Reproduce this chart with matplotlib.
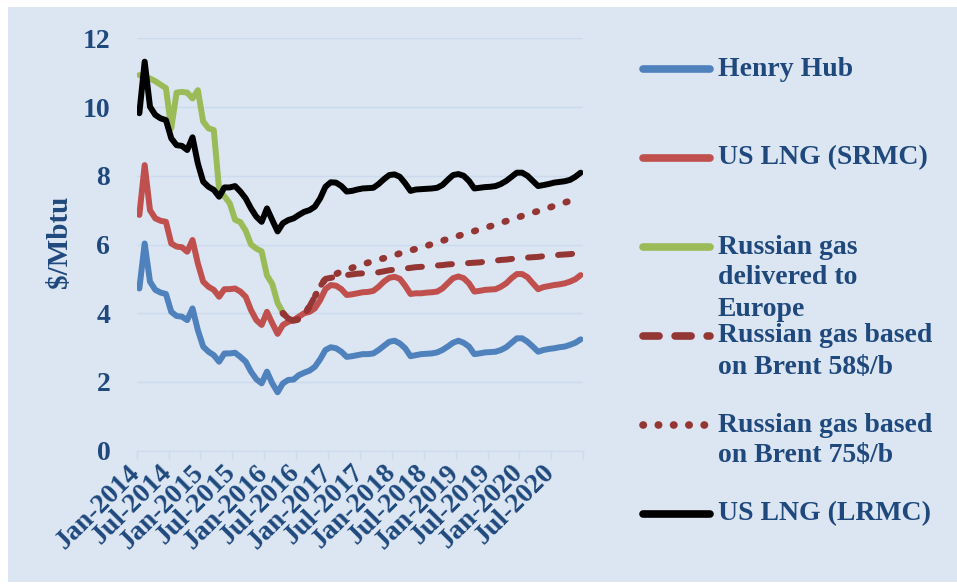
import numpy as np
import matplotlib.pyplot as plt
from matplotlib.lines import Line2D
from matplotlib.patches import Rectangle

# ---------------- data (monthly, Jan-2014 .. Dec-2020) ----------------
henry_hub = [4.72, 6.03, 4.92, 4.68, 4.60, 4.56, 4.04, 3.92, 3.90, 3.80, 4.14, 3.51,
             3.03, 2.88, 2.78, 2.59, 2.83, 2.83, 2.85, 2.73, 2.59, 2.30, 2.08, 1.96,
             2.30, 1.96, 1.70, 1.96, 2.06, 2.07, 2.20, 2.27, 2.33, 2.44, 2.66, 2.93,
             3.01, 2.98, 2.88, 2.73, 2.75, 2.78, 2.81, 2.81, 2.83, 2.93, 3.05, 3.17,
             3.20, 3.12, 2.98, 2.75, 2.78, 2.81, 2.82, 2.83, 2.86, 2.93, 3.03, 3.14,
             3.20, 3.14, 3.03, 2.81, 2.83, 2.86, 2.87, 2.88, 2.93, 3.01, 3.14, 3.27,
             3.27, 3.17, 3.03, 2.88, 2.93, 2.96, 2.98, 3.01, 3.03, 3.08, 3.14, 3.24]
lng_srmc = [6.86, 8.31, 7.00, 6.76, 6.69, 6.66, 6.03, 5.94, 5.92, 5.79, 6.13, 5.45,
            4.92, 4.77, 4.68, 4.48, 4.70, 4.70, 4.72, 4.63, 4.48, 4.09, 3.80, 3.66,
            4.04, 3.71, 3.40, 3.66, 3.75, 3.80, 3.90, 4.00, 4.04, 4.14, 4.38, 4.70,
            4.82, 4.80, 4.70, 4.53, 4.55, 4.58, 4.61, 4.62, 4.65, 4.77, 4.92, 5.03,
            5.06, 5.00, 4.80, 4.56, 4.58, 4.58, 4.60, 4.61, 4.63, 4.72, 4.87, 5.02,
            5.07, 5.02, 4.87, 4.63, 4.65, 4.68, 4.69, 4.70, 4.77, 4.87, 5.02, 5.14,
            5.14, 5.05, 4.87, 4.70, 4.76, 4.79, 4.82, 4.84, 4.87, 4.92, 4.99, 5.11]
russian_eu = [10.93, 10.88, 10.83, 10.75, 10.65, 10.55, 9.38, 10.42, 10.44, 10.42, 10.25, 10.49,
              9.58, 9.38, 9.33, 7.60, 7.40, 7.20, 6.72, 6.65, 6.40, 6.00, 5.88, 5.80,
              5.10, 4.85, 4.30, 4.02] + [np.nan] * 56
brent58 = [np.nan] * 27 + [4.00, 3.85, 3.78, 3.83, 3.95, 4.20, 4.48, 4.78, 5.00,
           5.03, 5.06, 5.09, 5.11, 5.13, 5.15, 5.16, 5.17, 5.18, 5.19, 5.22, 5.25,
           5.27, 5.29, 5.30, 5.32, 5.34, 5.35, 5.36, 5.37, 5.39, 5.40, 5.42, 5.43,
           5.44, 5.45, 5.46, 5.47, 5.48, 5.50, 5.52, 5.53, 5.55, 5.56, 5.58, 5.60,
           5.61, 5.62, 5.63, 5.64, 5.66, 5.67, 5.68, 5.70, 5.71, 5.72, 5.74, 5.75]
brent75 = [np.nan] * 27 + [4.00, 3.85, 3.78, 3.83, 3.95, 4.20, 4.48, 4.78, 5.00,
           5.07, 5.14, 5.22, 5.27, 5.32, 5.37, 5.42, 5.47, 5.52, 5.56, 5.60, 5.64,
           5.69, 5.74, 5.79, 5.83, 5.87, 5.92, 5.96, 6.01, 6.06, 6.11, 6.16, 6.21,
           6.25, 6.30, 6.35, 6.39, 6.44, 6.49, 6.53, 6.58, 6.63, 6.68, 6.73, 6.78,
           6.83, 6.88, 6.93, 6.97, 7.02, 7.07, 7.12, 7.17, 7.22, 7.27, 7.32, 7.38]
lng_lrmc = [9.82, 11.32, 10.01, 9.77, 9.67, 9.62, 9.09, 8.89, 8.87, 8.75, 9.12, 8.36,
            7.83, 7.68, 7.59, 7.39, 7.66, 7.66, 7.70, 7.54, 7.34, 7.05, 6.81, 6.66,
            7.05, 6.71, 6.38, 6.62, 6.71, 6.76, 6.86, 6.95, 7.00, 7.10, 7.34, 7.68,
            7.81, 7.80, 7.70, 7.54, 7.56, 7.60, 7.63, 7.64, 7.65, 7.76, 7.90, 8.02,
            8.04, 7.97, 7.78, 7.56, 7.60, 7.61, 7.62, 7.63, 7.65, 7.73, 7.88, 8.02,
            8.05, 8.00, 7.85, 7.63, 7.65, 7.67, 7.68, 7.70, 7.76, 7.85, 7.97, 8.09,
            8.09, 8.00, 7.85, 7.70, 7.73, 7.76, 7.80, 7.82, 7.84, 7.88, 7.97, 8.09]

tick_labels = ['Jan-2014', 'Jul-2014', 'Jan-2015', 'Jul-2015', 'Jan-2016', 'Jul-2016',
               'Jan-2017', 'Jul-2017', 'Jan-2018', 'Jul-2018', 'Jan-2019', 'Jul-2019',
               'Jan-2020', 'Jul-2020']

months = np.arange(len(henry_hub))

# ---------------- style ----------------
BG = '#DCE6F2'
TXT = '#1F497D'
GRID = '#CCDAEE'
FONT = 'Liberation Serif'
FS = 20
LW = 4.3

plt.rcParams.update({'font.family': FONT, 'font.weight': 'bold'})

fig = plt.figure(figsize=(9.57, 5.85), dpi=100, facecolor='white')
fig.add_artist(Rectangle((8/957, 0.005), 1, 1 - 7/585 - 0.005, transform=fig.transFigure,
                         facecolor=BG, edgecolor='none', zorder=-10))
ax = fig.add_axes([136.7/957, 1 - 450.7/585, (583.3 - 136.7)/957, (450.7 - 38.3)/585])
ax.set_facecolor('none')

ax.plot(months, henry_hub, color='#4F81BD', lw=LW, solid_capstyle='round', solid_joinstyle='round')
ax.plot(months, lng_srmc, color='#C0504D', lw=LW, solid_capstyle='round', solid_joinstyle='round')
ax.plot(months, russian_eu, color='#9BBB59', lw=LW, solid_capstyle='round', solid_joinstyle='round')
ax.plot(months, brent58, color='#943634', lw=LW, ls=(0, (2.35, 2.7)), dash_capstyle='round')
ax.plot(months, brent75, color='#943634', lw=4.8, ls=(0, (0.25, 2.15)), dash_capstyle='round')
ax.plot(months, lng_lrmc, color='black', lw=LW, solid_capstyle='round', solid_joinstyle='round')

ax.set_xlim(-0.5, 83.5)
ax.set_ylim(0, 12)
ax.set_yticks(range(0, 13, 2))
ax.set_xticks(np.arange(-0.5, 84, 6))
ax.set_xticklabels(tick_labels + [''], rotation=45, ha='right', va='center',
                   rotation_mode='anchor')
for lbl in ax.get_xticklabels():
    lbl.set_x(lbl.get_position()[0])
ax.tick_params(axis='y', length=0, pad=19, labelsize=FS, labelcolor=TXT)
ax.tick_params(axis='x', length=6, width=1, color=GRID, pad=7, labelsize=FS, labelcolor=TXT)
ax.grid(axis='y', color=GRID, lw=1)
ax.set_axisbelow(True)
for s in ['top', 'right', 'left']:
    ax.spines[s].set_visible(False)
ax.spines['bottom'].set_color(GRID)

fig.text(59/957, 1 - 242/585, '$/Mbtu', rotation=90, ha='center', va='center',
         color=TXT, fontsize=FS + 1, fontweight='bold')

# ---------------- legend (drawn by hand: handle aligned to first text line) ----------------
legend_items = [
    ('#4F81BD', '-', ['Henry Hub'], 69),
    ('#C0504D', '-', ['US LNG (SRMC)'], 158),
    ('#9BBB59', '-', ['Russian gas', 'delivered to', 'Europe'], 247),
    ('#943634', (0, (2.1, 2.1)), ['Russian gas based', 'on Brent 58$/b'], 336),
    ('#943634', (0, (0.05, 1.95)), ['Russian gas based', 'on Brent 75$/b'], 425),
    ('black', '-', ['US LNG (LRMC)'], 514),
]
for col, ls, lines, ypx in legend_items:
    y = 1 - ypx/585
    fig.add_artist(Line2D([643/957, 710/957], [y, y], transform=fig.transFigure, color=col,
                          lw=5.5, ls=ls, solid_capstyle='round', dash_capstyle='round'))
    for k, t in enumerate(lines):
        fig.text(718/957, 1 - (ypx + 31*k)/585, t, ha='left', va='center',
                 color=TXT, fontsize=FS, fontweight='bold')

fig.savefig('out.png', dpi=100, facecolor='white')
